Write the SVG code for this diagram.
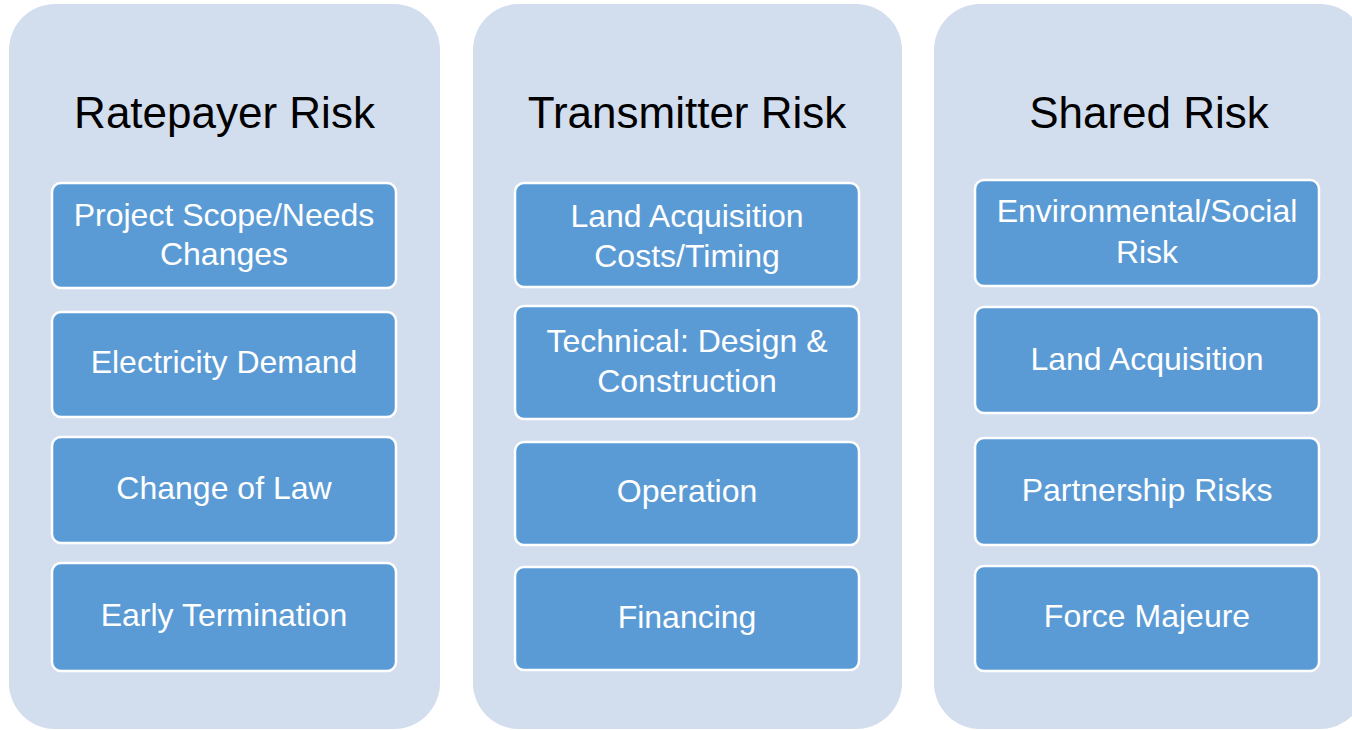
<svg xmlns="http://www.w3.org/2000/svg" width="1352" height="730" viewBox="0 0 1352 730">
<style>
.panel{fill:#D2DDEE;}
.box{fill:#5B9BD5;stroke:#FFFFFF;stroke-width:2.5;}
.title{font-family:"Liberation Sans",Arial,sans-serif;font-size:44px;fill:#000000;text-anchor:middle;}
.label{font-family:"Liberation Sans",Arial,sans-serif;font-size:32px;fill:#FFFFFF;text-anchor:middle;}
</style>
<rect width="1352" height="730" fill="#FFFFFF"/>
<g id="panel-ratepayer">
<rect class="panel" x="9" y="4" width="431" height="725" rx="46"/>
<text class="title" x="224.5" y="128">Ratepayer Risk</text>
</g>
<g id="panel-transmitter">
<rect class="panel" x="473" y="4" width="429" height="725" rx="46"/>
<text class="title" x="687" y="128">Transmitter Risk</text>
</g>
<g id="panel-shared">
<rect class="panel" x="934" y="4" width="432" height="725" rx="46"/>
<text class="title" x="1149" y="128">Shared Risk</text>
</g>
<g id="r1"><rect class="box" x="52" y="183" width="344" height="105" rx="9"/><text class="label" x="224" y="226">Project Scope/Needs</text><text class="label" x="224" y="265">Changes</text></g>
<g id="r2"><rect class="box" x="52" y="312" width="344" height="105" rx="9"/><text class="label" x="224" y="373">Electricity Demand</text></g>
<g id="r3"><rect class="box" x="52" y="437" width="344" height="106" rx="9"/><text class="label" x="224" y="499">Change of Law</text></g>
<g id="r4"><rect class="box" x="52" y="563" width="344" height="108" rx="9"/><text class="label" x="224" y="626">Early Termination</text></g>
<g id="t1"><rect class="box" x="515" y="183" width="344" height="104" rx="9"/><text class="label" x="687" y="227">Land Acquisition</text><text class="label" x="687" y="267">Costs/Timing</text></g>
<g id="t2"><rect class="box" x="515" y="306" width="344" height="113" rx="9"/><text class="label" x="687" y="352">Technical: Design &amp;</text><text class="label" x="687" y="392">Construction</text></g>
<g id="t3"><rect class="box" x="515" y="442" width="344" height="103" rx="9"/><text class="label" x="687" y="502">Operation</text></g>
<g id="t4"><rect class="box" x="515" y="567" width="344" height="103" rx="9"/><text class="label" x="687" y="628">Financing</text></g>
<g id="s1"><rect class="box" x="975" y="180" width="344" height="106" rx="9"/><text class="label" x="1147" y="222">Environmental/Social</text><text class="label" x="1147" y="263">Risk</text></g>
<g id="s2"><rect class="box" x="975" y="307" width="344" height="106" rx="9"/><text class="label" x="1147" y="370">Land Acquisition</text></g>
<g id="s3"><rect class="box" x="975" y="438" width="344" height="107" rx="9"/><text class="label" x="1147" y="501">Partnership Risks</text></g>
<g id="s4"><rect class="box" x="975" y="566" width="344" height="105" rx="9"/><text class="label" x="1147" y="627">Force Majeure</text></g>
<g id="connectors"></g>
</svg>
